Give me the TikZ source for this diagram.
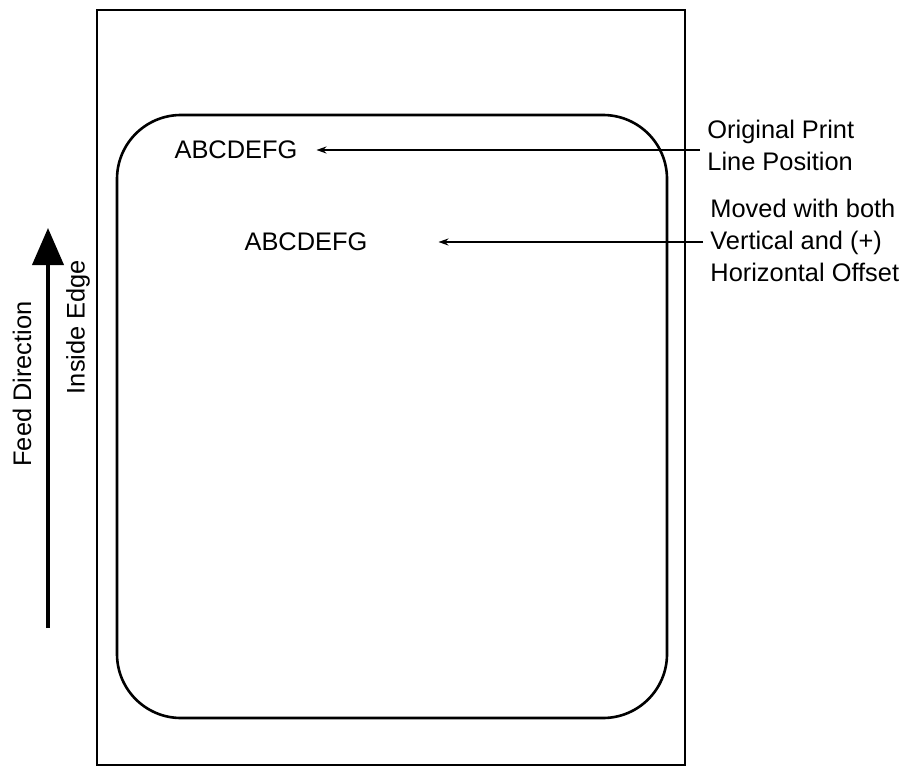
\documentclass[tikz,border=0pt]{standalone}
\usepackage{fontspec}
\setmainfont{Liberation Sans}
\usetikzlibrary{arrows.meta,positioning}

\begin{document}
\begin{tikzpicture}[x=0.5pt, y=-0.5pt,
        every node/.style={font=\fontsize{12.7}{16}\selectfont},
        ptr/.style={-{Stealth[length=5pt,width=3.5pt]}, line width=0.9pt},
        note/.style={anchor=west, align=left, inner sep=3.5pt}]
            \useasboundingbox (0,0) rectangle (913,775);

            % Label stock
            \draw[line width=1pt] (97,10) rectangle (685,765);
            \draw[line width=1.3pt, rounded corners=32pt] (117,115) rectangle (667,718);

            % Print lines
            \node (abc1) at (236,150) {ABCDEFG};
            \node (abc2) at (306,242) {ABCDEFG};

            % Notes
            \node[note] (orig) at (700,145) {Original Print\\Line Position};
            \node[note] (moved) at (703,240) {Moved with both\\Vertical and (+)\\Horizontal Offset};

            \draw[ptr] (abc1 -| orig.west) -- ([xshift=6pt]abc1.east);
            \draw[ptr] (abc2 -| moved.west) -- ([xshift=32pt]abc2.east);

            % Feed
            \coordinate (feedtail) at (48,628);
            \coordinate (feedtip) at (48,228);
            \draw[-{Triangle[length=18.5pt,width=15.5pt]}, line width=2pt] (feedtail) -- (feedtip);
            \node[rotate=90] (feed) at (22,384) {Feed Direction};
            \node[rotate=90] (edge) at (78,327) {Inside Edge};
        \end{tikzpicture}
\end{document}
